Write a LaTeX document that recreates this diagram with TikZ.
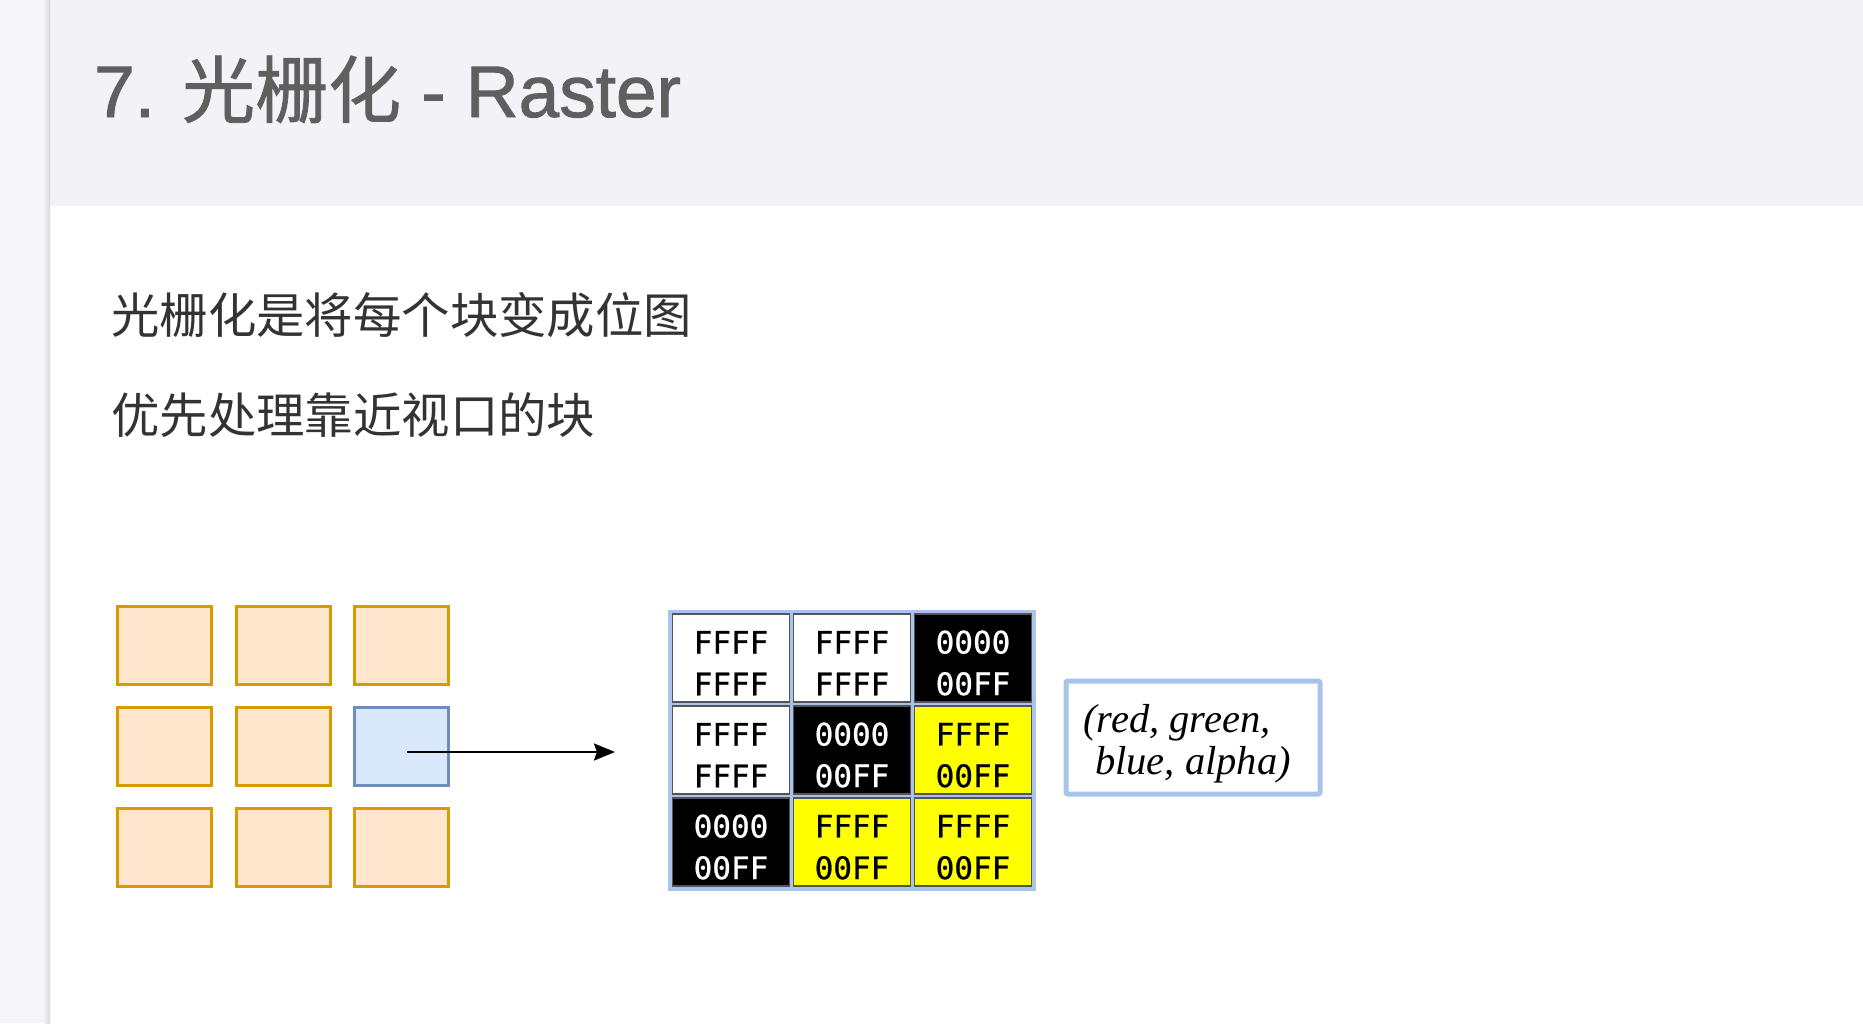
\documentclass[tikz,border=0pt]{standalone}
\usepackage{fontspec}
\setmainfont{Liberation Sans}
\newfontfamily\cjk{Noto Sans CJK SC}
\newfontfamily\titlefont[FakeBold=1.3]{Liberation Sans}
\newfontfamily\titlecjk[FakeBold=1.1]{Noto Sans CJK SC}
\newfontfamily\hexfont[FakeBold=0.8]{DejaVu Sans Mono}
\newfontfamily\serifit{Liberation Serif}
\usetikzlibrary{arrows.meta}
\newcommand\hexpair[2]{\rule{0pt}{33pt}#1\\#2}
\definecolor{titlebg}{HTML}{F3F3F7}
\definecolor{stripbg}{HTML}{F6F6F8}
\definecolor{titlegray}{HTML}{5F5F5F}
\definecolor{bodygray}{HTML}{333333}
\definecolor{tileor}{HTML}{D79B00}
\definecolor{tileorfill}{HTML}{FFE6CC}
\definecolor{tilebl}{HTML}{6C8EBF}
\definecolor{tileblfill}{HTML}{DAE8FC}
\definecolor{gridblue}{HTML}{A9C4EB}
\definecolor{cellborder}{HTML}{555555}
\definecolor{pixyellow}{HTML}{FFFF00}
\begin{document}
\begin{tikzpicture}[x=1pt,y=-1pt,
  tile/.style={draw=tileor, fill=tileorfill, line width=3pt, minimum width=94pt, minimum height=78pt, inner sep=0pt},
  seltile/.style={tile, draw=tilebl, fill=tileblfill},
  body/.style={anchor=base west, inner sep=0pt, text=bodygray, font=\cjk\fontsize{48.4}{56}\selectfont},
  cell/.style={minimum width=117pt, minimum height=88pt, inner sep=0pt, draw=cellborder, line width=1.5pt, align=center, font=\hexfont\fontsize{31}{41.6}\selectfont},
  wcell/.style={cell, fill=white, text=black},
  kcell/.style={cell, fill=black, text=white},
  ycell/.style={cell, fill=pixyellow, text=black},
  gridline/.style={draw=gridblue, line width=5pt},
  labelbox/.style={draw=gridblue, line width=5pt, rounded corners=2pt, minimum width=254pt, minimum height=113pt, align=center, fill=white, font=\serifit\itshape\fontsize{40.5}{41.6}\selectfont},
  arrowline/.style={line width=2.4pt, -{Stealth[length=21pt,width=17pt,inset=3pt]}}
]
\useasboundingbox (0,0) rectangle (1863,1023);
% page background
\fill[stripbg] (0,0) rectangle (50,1023);
\fill[white] (50,206) rectangle (1863,1023);
\fill[titlebg] (50,0) rectangle (1863,206);
\shade[left color=stripbg, right color=black!16] (43,0) rectangle (50,1023);

% title
\node[anchor=base west, inner sep=0pt, text=titlegray, font=\titlefont\fontsize{73}{80}\selectfont] (title) at (94,117) {7. {\titlecjk 光栅化} - Raster};

% body text
\node[body] (line1) at (111,333) {光栅化是将每个块变成位图};
\node[body] (line2) at (111,433) {优先处理靠近视口的块};

% tiles
\node[tile] (t11) at (164.5,645) {};
\node[tile] (t12) at (283.3,645) {};
\node[tile] (t13) at (401,645) {};
\node[tile] (t21) at (164.5,746) {};
\node[tile] (t22) at (283.3,746) {};
\node[seltile] (t23) at (401,746) {};
\node[tile] (t31) at (164.5,847) {};
\node[tile] (t32) at (283.3,847) {};
\node[tile] (t33) at (401,847) {};

% pixel grid: blue lines
\draw[gridline] (670.5,612) rectangle (1033.5,888);
\draw[gridline] (791.5,612) -- (791.5,888);
\draw[gridline] (912.5,612) -- (912.5,888);
\draw[gridline] (670.5,704) -- (1033.5,704);
\draw[gridline] (670.5,796) -- (1033.5,796);

% pixel cells
\node[wcell] (c11) at (731,658) {\hexpair{FFFF}{FFFF}};
\node[wcell] (c12) at (852,658) {\hexpair{FFFF}{FFFF}};
\node[kcell] (c13) at (973,658) {\hexpair{0000}{00FF}};
\node[wcell] (c21) at (731,750) {\hexpair{FFFF}{FFFF}};
\node[kcell] (c22) at (852,750) {\hexpair{0000}{00FF}};
\node[ycell] (c23) at (973,750) {\hexpair{FFFF}{00FF}};
\node[kcell] (c31) at (731,842) {\hexpair{0000}{00FF}};
\node[ycell] (c32) at (852,842) {\hexpair{FFFF}{00FF}};
\node[ycell] (c33) at (973,842) {\hexpair{FFFF}{00FF}};

% label
\node[labelbox] (rgba) at (1193,737.5) {\rule{0pt}{40pt}(red, green,\kern32pt\\ blue, alpha)};

% arrow
\coordinate (aend) at (615,752);
\draw[arrowline] ([shift={(6,6)}]t23.center) -- (aend);
\end{tikzpicture}
\end{document}
